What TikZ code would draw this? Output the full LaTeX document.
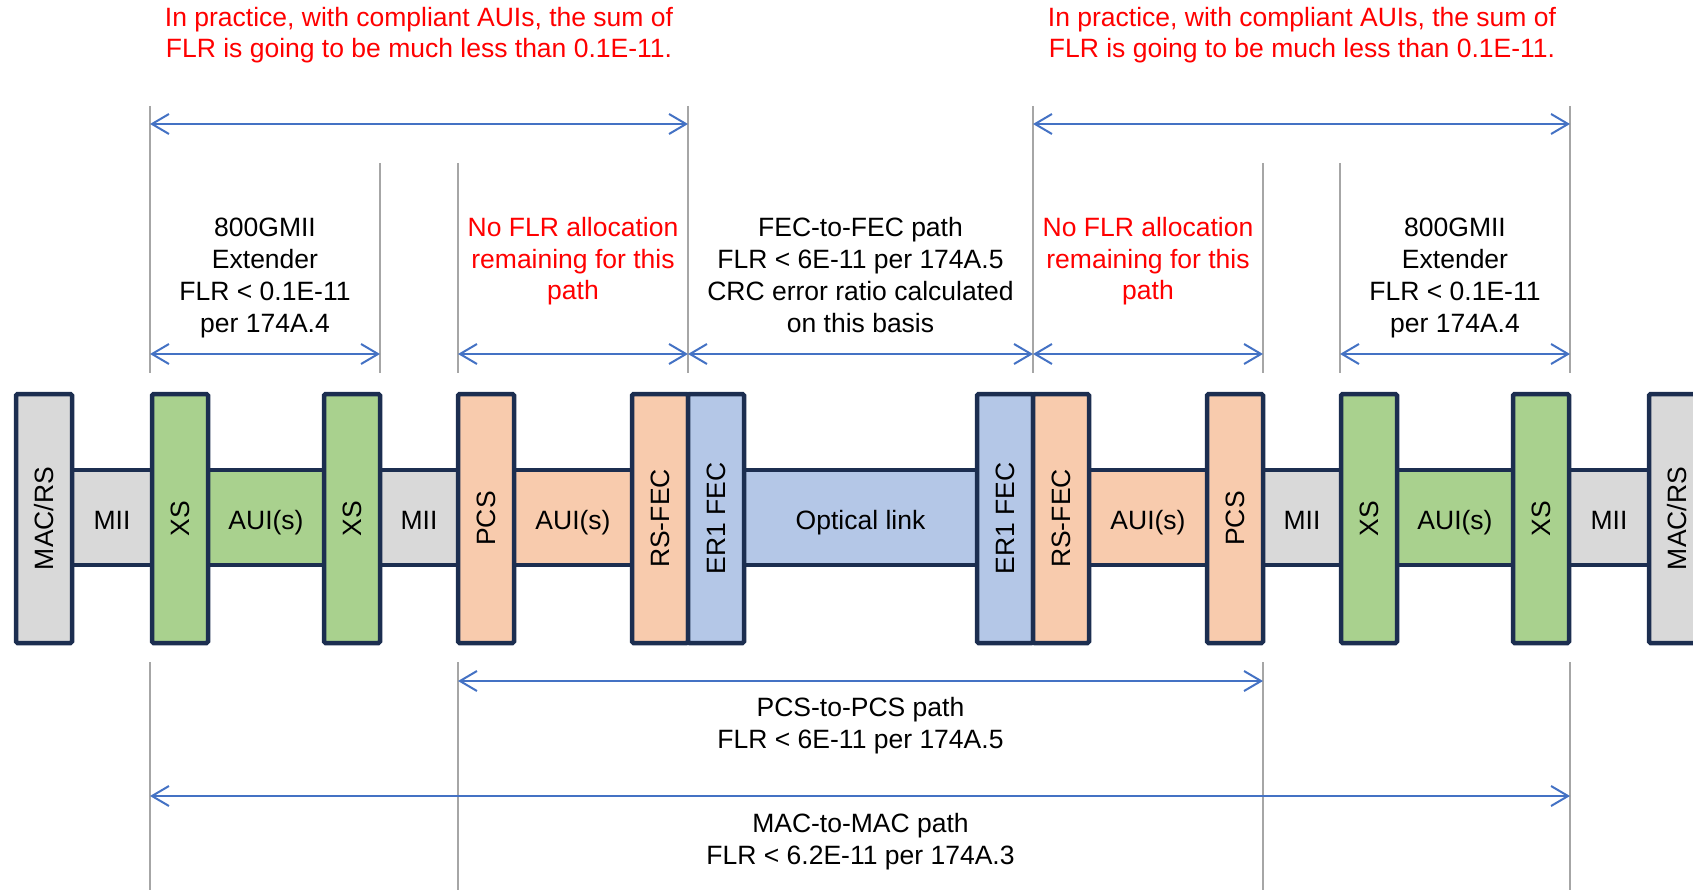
\documentclass[tikz,border=0pt]{standalone}
\usepackage{fontspec}
\setmainfont{Liberation Sans}
\usepackage{graphicx}
\usetikzlibrary{arrows.meta}
\definecolor{navy}{HTML}{1C2E50}
\definecolor{miigray}{HTML}{D9D9D9}
\definecolor{xsgreen}{HTML}{A9D18E}
\definecolor{pcsorange}{HTML}{F8CBAD}
\definecolor{fecblue}{HTML}{B4C7E7}
\definecolor{arrowblue}{HTML}{4472C4}
\definecolor{guidegray}{HTML}{A6A6A6}
\definecolor{notered}{HTML}{FF0000}
\begin{document}
\begin{tikzpicture}[x=1pt,y=-1pt,
  font=\fontsize{26.5}{31.7}\selectfont,
  tall/.style={draw=navy,line width=4.5pt,rounded corners=1.5pt,minimum width=56pt,minimum height=249pt,inner sep=0pt,anchor=center},
  band/.style={draw=navy,line width=4.5pt,minimum height=95pt,inner sep=0pt,anchor=center,text height=19pt,text depth=0pt},
  guide/.style={guidegray,line width=1.8pt},
  dim/.style={arrowblue,line width=2pt,{Straight Barb[length=17pt,width=20pt]}-{Straight Barb[length=17pt,width=20pt]}},
  lbl/.style={align=center,anchor=base,inner sep=0pt},
  redlbl/.style={lbl,text=notered},
]
\useasboundingbox (0,0) rectangle (1693,890);

% guide lines
\foreach \gx/\gy in {150/106,380/163,458/163,688/106,1033/106,1263/163,1340/163,1570/106}{
  \coordinate (gt\gx) at (\gx,\gy);
  \coordinate (gb\gx) at (\gx,373);
  \draw[guide] (gt\gx) -- (gb\gx);
}
\foreach \gx in {150,458,1263,1570}{
  \coordinate (lt\gx) at (\gx,662);
  \coordinate (lb\gx) at (\gx,890);
  \draw[guide] (lt\gx) -- (lb\gx);
}

% bands
\node[band,fill=miigray,minimum width=80pt] (mii1) at (112,517.5) {\raisebox{-2.5pt}{MII}};
\node[band,fill=xsgreen,minimum width=116pt] (aui1) at (266,517.5) {\raisebox{-2.5pt}{AUI(s)}};
\node[band,fill=miigray,minimum width=78pt] (mii2) at (419,517.5) {\raisebox{-2.5pt}{MII}};
\node[band,fill=pcsorange,minimum width=118pt] (aui2) at (573,517.5) {\raisebox{-2.5pt}{AUI(s)}};
\node[band,fill=fecblue,minimum width=233pt] (opt) at (860.5,517.5) {\raisebox{-2.5pt}{Optical link}};
\node[band,fill=pcsorange,minimum width=118pt] (aui3) at (1148,517.5) {\raisebox{-2.5pt}{AUI(s)}};
\node[band,fill=miigray,minimum width=78pt] (mii3) at (1302,517.5) {\raisebox{-2.5pt}{MII}};
\node[band,fill=xsgreen,minimum width=116pt] (aui4) at (1455,517.5) {\raisebox{-2.5pt}{AUI(s)}};
\node[band,fill=miigray,minimum width=80pt] (mii4) at (1609,517.5) {\raisebox{-2.5pt}{MII}};

% tall blocks
\node[tall,fill=miigray] (mac1) at (44,518.5) {\rotatebox{90}{MAC/RS}};
\node[tall,fill=xsgreen] (xs1) at (180,518.5) {\rotatebox{90}{XS}};
\node[tall,fill=xsgreen] (xs2) at (352,518.5) {\rotatebox{90}{XS}};
\node[tall,fill=pcsorange] (pcs1) at (486,518.5) {\rotatebox{90}{PCS}};
\node[tall,fill=pcsorange] (rs1) at (660,518.5) {\rotatebox{90}{RS-FEC}};
\node[tall,fill=fecblue] (er1) at (716,518.5) {\rotatebox{90}{ER1 FEC}};
\node[tall,fill=fecblue] (er2) at (1005,518.5) {\rotatebox{90}{ER1 FEC}};
\node[tall,fill=pcsorange] (rs2) at (1061,518.5) {\rotatebox{90}{RS-FEC}};
\node[tall,fill=pcsorange] (pcs2) at (1235,518.5) {\rotatebox{90}{PCS}};
\node[tall,fill=xsgreen] (xs3) at (1369,518.5) {\rotatebox{90}{XS}};
\node[tall,fill=xsgreen] (xs4) at (1541,518.5) {\rotatebox{90}{XS}};
\node[tall,fill=miigray] (mac2) at (1677,518.5) {\rotatebox{90}{MAC/RS}};

% dimension arrows
\foreach \xa/\xb/\yy/\nm in {150/688/124/ta,1033/1570/124/tb,150/380/354/ma,458/688/354/mb,688/1033/354/mc,1033/1263/354/md,1340/1570/354/me,458/1263/681/ba,150/1570/796/bb}{
  \coordinate (\nm l) at (\xa,\yy);
  \coordinate (\nm r) at (\xb,\yy);
  \draw[dim] (\nm l) -- (\nm r);
}

% labels (anchor base = baseline of last line)
\node[redlbl] (note1) at (419,58) {In practice, with compliant AUIs, the sum of\\FLR is going to be much less than 0.1E-11.};
\node[redlbl] (note2) at (1302,58) {In practice, with compliant AUIs, the sum of\\FLR is going to be much less than 0.1E-11.};
\node[lbl] (ext1) at (265,332) {800GMII\\Extender\\FLR < 0.1E-11\\per 174A.4};
\node[redlbl] (nof1) at (573,300) {No FLR allocation\\remaining for this\\path};
\node[lbl] (fec) at (860.5,332) {FEC-to-FEC path\\FLR < 6E-11 per 174A.5\\CRC error ratio calculated\\on this basis};
\node[redlbl] (nof2) at (1148,300) {No FLR allocation\\remaining for this\\path};
\node[lbl] (ext2) at (1455,332) {800GMII\\Extender\\FLR < 0.1E-11\\per 174A.4};
\node[lbl] (pcspath) at (860.5,748) {PCS-to-PCS path\\FLR < 6E-11 per 174A.5};
\node[lbl] (macpath) at (860.5,864) {MAC-to-MAC path\\FLR < 6.2E-11 per 174A.3};
\end{tikzpicture}
\end{document}
